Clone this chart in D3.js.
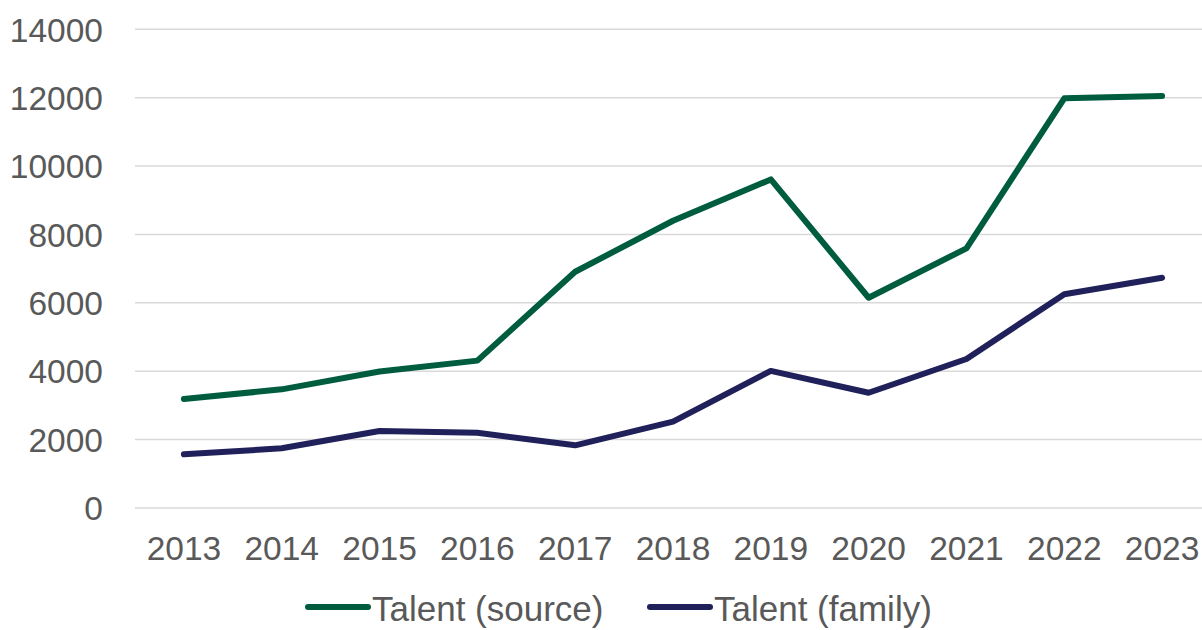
<!DOCTYPE html>
<html><head><meta charset="utf-8">
<script src="https://cdn.jsdelivr.net/npm/d3@7"></script>
<style>body{margin:0;background:#fff}svg{display:block}text{font-family:"Liberation Sans",Arial,sans-serif;fill:#595959}</style>
</head><body><svg id="c" width="1202" height="630"></svg>
<script>
const years = ["2013","2014","2015","2016","2017","2018","2019","2020","2021","2022","2023"];
const talentSource = [3190, 3470, 3990, 4310, 6910, 8400, 9610, 6150, 7595, 11980, 12050];
const talentFamily = [1570, 1746, 2250, 2200, 1833, 2524, 4010, 3370, 4358, 6250, 6736];
const yTicks = [0, 2000, 4000, 6000, 8000, 10000, 12000, 14000];
const seriesNames = ["Talent (source)", "Talent (family)"];
const colors = ["#005C3F", "#20205A"];

(function () {
const svg = d3.select("#c");
const mLeft = 135, mRight = 1211, mTop = 29.3, mBottom = 508;
const x = d3.scaleBand().domain(years).range([mLeft, mRight]);
const y = d3.scaleLinear().domain([0, 14000]).range([mBottom, mTop]);

svg.append("g").selectAll("line").data(yTicks).join("line")
  .attr("x1", mLeft).attr("x2", mRight)
  .attr("y1", d => y(d)).attr("y2", d => y(d))
  .attr("stroke", "#d9d9d9").attr("stroke-width", 1.5);

const ya = svg.append("g").attr("transform", `translate(${mLeft},0)`)
  .call(d3.axisLeft(y).tickValues(yTicks).tickSize(0).tickPadding(32).tickFormat(d3.format("d")));
ya.select(".domain").remove();
ya.selectAll("text").style("font-size", "33.5px").attr("fill", "#595959").attr("dy", "0.35em");

const xa = svg.append("g").attr("transform", `translate(0,${mBottom})`)
  .call(d3.axisBottom(x).tickSize(0).tickPadding(28));
xa.select(".domain").remove();
xa.selectAll("text").style("font-size", "33.5px").attr("fill", "#595959");

const line = d3.line().x((d, i) => x(years[i]) + x.bandwidth() / 2).y(d => y(d));
[talentSource, talentFamily].forEach((s, k) => {
  svg.append("path").datum(s).attr("d", line)
    .attr("fill", "none").attr("stroke", colors[k]).attr("stroke-width", 6)
    .attr("stroke-linejoin", "round").attr("stroke-linecap", "round");
});

const legX = [308, 650];
seriesNames.forEach((n, k) => {
  const g = svg.append("g");
  g.append("line").attr("x1", legX[k]).attr("x2", legX[k] + 60).attr("y1", 607).attr("y2", 607)
    .attr("stroke", colors[k]).attr("stroke-width", 6).attr("stroke-linecap", "round");
  g.append("text").attr("x", legX[k] + 64).attr("y", 621).style("font-size", "35px").text(n);
});
})();
</script></body></html>
